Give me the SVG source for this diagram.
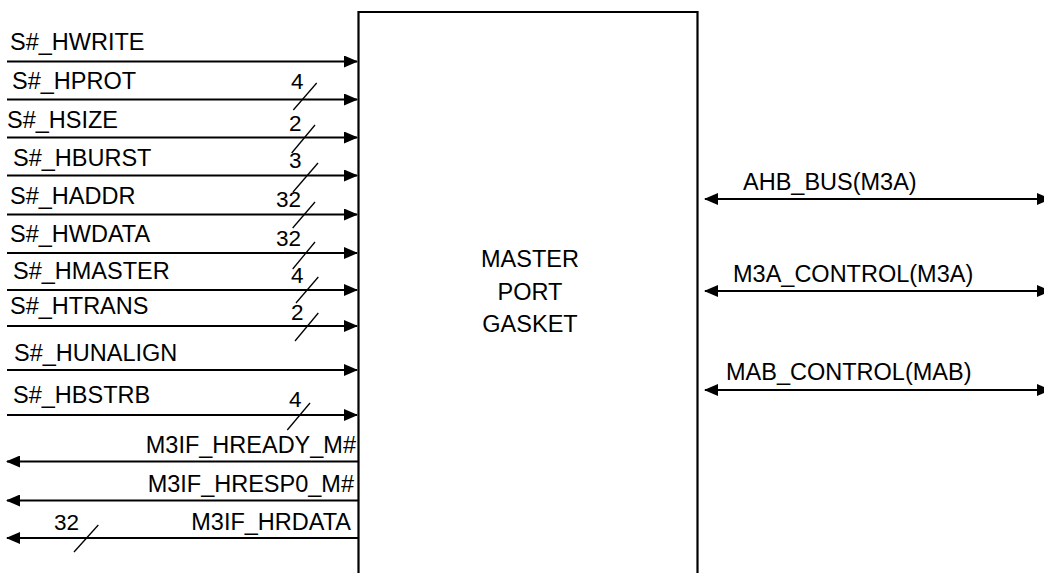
<svg xmlns="http://www.w3.org/2000/svg" width="1044" height="573" viewBox="0 0 1044 573">
<style>
.t{font-family:"Liberation Sans",Arial,Helvetica,sans-serif;font-size:23.5px;fill:#000}
.n{font-family:"Liberation Sans",Arial,Helvetica,sans-serif;font-size:22.5px;fill:#000}
.w{stroke:#000;stroke-width:2.2;fill:none}
.tk{stroke:#000;stroke-width:1.3;fill:none}
</style>
<defs>
<marker id="ah" viewBox="0 0 14 12" refX="13" refY="6" markerWidth="14" markerHeight="12" markerUnits="userSpaceOnUse" orient="auto-start-reverse">
<path d="M0,0 L14,6 L0,12 Z" fill="#000"/>
</marker>
</defs>
<rect width="1044" height="573" fill="#fff"/>
<g id="gasket">
<path class="w" d="M358.5,580 V12 H697.5 V580"/>
<text class="t" text-anchor="middle" x="530" y="267">MASTER</text>
<text class="t" text-anchor="middle" x="530" y="300">PORT</text>
<text class="t" text-anchor="middle" x="530" y="332">GASKET</text>
</g>
<g id="connectors">
<line class="w" x1="7" y1="61.5" x2="357" y2="61.5" marker-end="url(#ah)"/>
<line class="w" x1="7" y1="99.5" x2="357" y2="99.5" marker-end="url(#ah)"/>
<line class="w" x1="7" y1="137.5" x2="357" y2="137.5" marker-end="url(#ah)"/>
<line class="w" x1="7" y1="175.5" x2="357" y2="175.5" marker-end="url(#ah)"/>
<line class="w" x1="7" y1="214.5" x2="357" y2="214.5" marker-end="url(#ah)"/>
<line class="w" x1="7" y1="253" x2="357" y2="253" marker-end="url(#ah)"/>
<line class="w" x1="7" y1="290" x2="357" y2="290" marker-end="url(#ah)"/>
<line class="w" x1="7" y1="326" x2="357" y2="326" marker-end="url(#ah)"/>
<line class="w" x1="7" y1="370" x2="357" y2="370" marker-end="url(#ah)"/>
<line class="w" x1="7" y1="415" x2="357" y2="415" marker-end="url(#ah)"/>
<line class="w" x1="358" y1="461.5" x2="7" y2="461.5" marker-end="url(#ah)"/>
<line class="w" x1="358" y1="500.5" x2="7" y2="500.5" marker-end="url(#ah)"/>
<line class="w" x1="358" y1="538" x2="7" y2="538" marker-end="url(#ah)"/>
<line class="w" x1="705" y1="199" x2="1050" y2="199" marker-start="url(#ah)" marker-end="url(#ah)"/>
<line class="w" x1="705" y1="291" x2="1050" y2="291" marker-start="url(#ah)" marker-end="url(#ah)"/>
<line class="w" x1="705" y1="390" x2="1050" y2="390" marker-start="url(#ah)" marker-end="url(#ah)"/>
<g id="ticks">
<line class="tk" x1="316.7" y1="83" x2="293.3" y2="110"/>
<line class="tk" x1="315" y1="125" x2="291.7" y2="153"/>
<line class="tk" x1="318" y1="163" x2="293" y2="192"/>
<line class="tk" x1="315" y1="202" x2="292.7" y2="228"/>
<line class="tk" x1="315" y1="242" x2="292.7" y2="269"/>
<line class="tk" x1="318.3" y1="277" x2="296" y2="303"/>
<line class="tk" x1="318.3" y1="313" x2="295" y2="341"/>
<line class="tk" x1="310" y1="403" x2="287.3" y2="430"/>
<line class="tk" x1="98.3" y1="525" x2="74" y2="552"/>
</g>
</g>
<g id="labels">
<text class="t" x="10" y="50">S#_HWRITE</text>
<text class="t" x="12" y="89">S#_HPROT</text>
<text class="t" x="7" y="128">S#_HSIZE</text>
<text class="t" x="13" y="166">S#_HBURST</text>
<text class="t" x="10" y="204">S#_HADDR</text>
<text class="t" x="10" y="242">S#_HWDATA</text>
<text class="t" x="13" y="279">S#_HMASTER</text>
<text class="t" x="10" y="314">S#_HTRANS</text>
<text class="t" x="14" y="361">S#_HUNALIGN</text>
<text class="t" x="13" y="403">S#_HBSTRB</text>
<text class="t" text-anchor="end" x="356" y="453">M3IF_HREADY_M#</text>
<text class="t" text-anchor="end" x="354" y="492">M3IF_HRESP0_M#</text>
<text class="t" text-anchor="end" x="351" y="530">M3IF_HRDATA</text>
<text class="t" x="743" y="190">AHB_BUS(M3A)</text>
<text class="t" x="733" y="282">M3A_CONTROL(M3A)</text>
<text class="t" x="726" y="380">MAB_CONTROL(MAB)</text>
<text class="n" x="291" y="89">4</text>
<text class="n" x="289" y="131">2</text>
<text class="n" x="289" y="168">3</text>
<text class="n" x="276" y="207">32</text>
<text class="n" x="276" y="246">32</text>
<text class="n" x="291" y="283">4</text>
<text class="n" x="291" y="320">2</text>
<text class="n" x="289" y="407">4</text>
<text class="n" x="54" y="530">32</text>
</g>
</svg>
